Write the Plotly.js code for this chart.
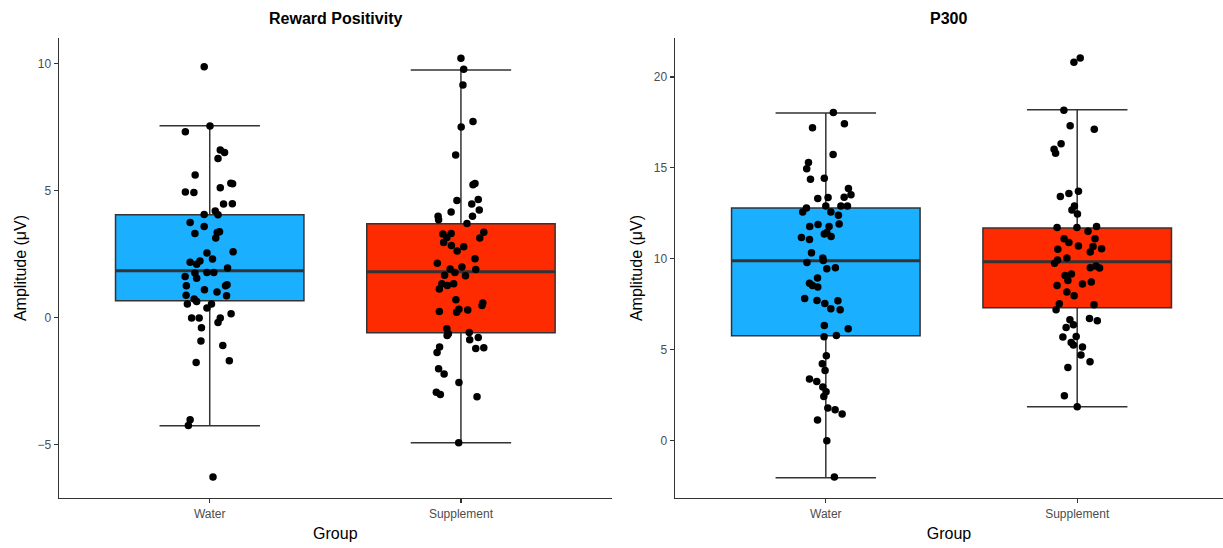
<!DOCTYPE html>
<html>
<head>
<meta charset="utf-8">
<script src="https://cdn.plot.ly/plotly-3.0.1.min.js"></script>
<style>html,body{margin:0;padding:0;background:#fff;}#chart{width:1223px;height:548px;}</style>
</head>
<body>
<div id="chart"></div>
<script>
// ---------- Data ----------
const groups = ["Water", "Supplement"];
const panelTitles = ["Reward Positivity", "P300"];

// Box statistics [Water, Supplement]
const rewpQ1 = [0.67, -0.59];
const rewpMedian = [1.85, 1.81];
const rewpQ3 = [4.06, 3.70];
const rewpLower = [-4.25, -4.92];
const rewpUpper = [7.56, 9.76];

const p300Q1 = [5.77, 7.31];
const p300Median = [9.89, 9.84];
const p300Q3 = [12.80, 11.70];
const p300Lower = [-2.03, 1.87];
const p300Upper = [18.02, 18.19];

// Individual observations (values) and their horizontal jitter (category units)
const rewpWater = [9.89, 7.55, 7.33, 6.61, 6.51, 6.27, 5.62, 5.30, 5.28, 4.95, 4.93, 5.12, 4.48, 4.49, 4.21, 4.06, 4.07, 3.75, 3.59, 3.39, 3.36, 3.32, 3.14, 2.60, 2.55, 2.19, 2.24, 2.11, 2.31, 1.96, 1.63, 1.76, 1.56, 1.78, 1.78, 1.26, 1.30, 1.26, 1.10, 1.01, 0.89, 0.87, 0.74, 0.64, 0.54, 0.54, 0.38, 0.16, -0.01, -0.01, -0.01, -0.19, -0.39, -0.92, -1.09, -1.76, -1.69, -4.02, -4.24, -6.27];
const rewpWaterJit = [-0.022, 0.001, -0.097, 0.042, 0.059, 0.033, -0.058, 0.084, 0.091, -0.097, -0.063, 0.042, 0.055, 0.090, 0.022, 0.033, -0.022, -0.078, -0.022, 0.039, 0.030, -0.059, 0.024, 0.093, -0.011, -0.078, -0.039, -0.052, 0.011, 0.071, -0.098, -0.059, -0.052, -0.011, 0.016, -0.093, 0.069, 0.063, -0.021, 0.029, -0.094, 0.067, -0.062, -0.052, -0.089, 0.007, -0.011, 0.085, -0.072, -0.042, 0.042, 0.033, -0.033, -0.035, 0.052, -0.054, 0.078, -0.078, -0.085, 0.013];

const rewpSupp = [10.22, 9.79, 9.17, 7.73, 7.51, 6.41, 5.24, 5.29, 4.62, 4.66, 4.48, 4.24, 4.17, 4.00, 3.86, 4.00, 3.71, 3.30, 3.32, 3.16, 3.37, 3.14, 2.96, 2.85, 2.80, 2.63, 2.32, 2.15, 2.00, 1.92, 1.90, 1.78, 1.67, 1.65, 1.34, 1.27, 1.34, 1.13, 0.71, 0.58, 0.48, 0.25, 0.34, 0.22, 0.31, -0.43, -0.63, -0.70, -0.58, -0.87, -0.78, -1.15, -1.37, -1.21, -1.18, -2.01, -2.22, -2.55, -2.93, -3.02, -3.11, -4.92];
const rewpSuppJit = [0.000, 0.011, 0.008, 0.048, 0.001, -0.021, 0.048, 0.056, -0.016, 0.069, 0.043, 0.073, -0.039, -0.091, -0.089, 0.046, 0.024, -0.072, -0.039, -0.056, 0.091, 0.075, -0.069, -0.038, 0.011, -0.015, 0.056, -0.094, 0.004, -0.043, 0.059, -0.024, -0.065, 0.018, -0.076, -0.054, -0.029, -0.086, -0.020, 0.087, 0.084, -0.086, -0.008, -0.017, 0.027, -0.056, -0.050, -0.055, 0.033, 0.035, 0.069, -0.085, -0.095, 0.059, 0.091, -0.089, -0.067, -0.008, -0.098, -0.082, 0.064, -0.009];

const p300Water = [18.04, 17.21, 17.42, 15.73, 15.29, 14.95, 14.43, 14.38, 13.86, 13.52, 13.39, 13.31, 13.37, 12.80, 12.57, 12.91, 12.91, 12.91, 12.57, 12.40, 11.77, 11.88, 11.77, 11.91, 11.37, 11.22, 11.44, 11.17, 11.06, 10.33, 10.04, 9.91, 9.80, 9.45, 9.51, 8.94, 8.66, 8.53, 8.45, 7.82, 7.71, 7.54, 7.69, 7.25, 7.20, 6.34, 6.15, 5.71, 5.79, 4.67, 4.23, 3.86, 3.39, 3.26, 2.95, 2.69, 2.43, 1.80, 1.70, 1.47, 1.14, 0.00, -1.99];
const p300WaterJit = [0.030, -0.053, 0.074, 0.029, -0.069, -0.076, -0.006, -0.061, 0.090, 0.100, 0.073, -0.032, 0.009, -0.077, -0.092, 0.000, 0.060, 0.086, 0.020, 0.050, -0.064, -0.031, 0.013, 0.053, -0.006, 0.021, 0.004, -0.097, -0.065, -0.057, -0.012, -0.010, -0.075, 0.004, 0.038, -0.033, -0.065, -0.053, -0.032, -0.084, -0.035, -0.004, 0.048, 0.020, 0.057, -0.006, 0.089, -0.007, 0.042, 0.002, -0.014, -0.003, -0.065, -0.036, -0.012, 0.001, -0.008, 0.008, 0.037, 0.065, -0.033, 0.004, 0.034];

const p300Supp = [21.04, 20.81, 18.17, 17.32, 17.12, 16.32, 16.03, 15.81, 13.72, 13.59, 13.42, 12.90, 12.69, 12.47, 11.72, 11.72, 11.78, 11.52, 11.10, 11.10, 10.90, 10.71, 10.53, 10.68, 10.55, 10.37, 10.04, 9.93, 9.76, 9.51, 9.60, 9.49, 9.08, 9.16, 8.81, 8.53, 8.61, 8.72, 8.17, 7.97, 7.53, 7.20, 7.47, 6.65, 6.37, 6.72, 6.59, 6.23, 5.70, 5.73, 5.40, 5.26, 5.15, 4.71, 4.03, 4.34, 2.47, 1.87];
const p300SuppJit = [0.012, -0.013, -0.053, -0.028, 0.068, -0.064, -0.092, -0.086, 0.005, -0.033, -0.067, -0.011, -0.021, 0.001, -0.080, -0.001, 0.077, 0.043, 0.071, -0.052, -0.033, 0.005, -0.077, 0.063, 0.097, 0.052, -0.041, -0.078, -0.090, 0.052, 0.075, 0.089, -0.048, -0.023, -0.037, -0.080, 0.021, 0.056, -0.041, -0.012, -0.071, -0.084, 0.067, -0.029, -0.015, 0.049, 0.080, -0.044, -0.057, -0.004, -0.024, -0.015, 0.021, 0.015, -0.037, 0.051, -0.051, 0.000];

// ---------- Styles ----------
const fills = ["#1AAFFF", "#FF2B00"];
const boxLine = "#333333";
const boxWidth = 0.75;
const catPos = [1, 2];

const traces = [];

function addPanel(q1, med, q3, lo, hi, xa, ya) {
  for (let g = 0; g < 2; g++) {
    traces.push({
      type: "box", x: [catPos[g]], q1: [q1[g]], median: [med[g]], q3: [q3[g]],
      lowerfence: [lo[g]], upperfence: [hi[g]],
      width: boxWidth, whiskerwidth: 0.533,
      fillcolor: fills[g], line: { color: boxLine, width: 1.5 },
      boxpoints: false, xaxis: xa, yaxis: ya, showlegend: false, hoverinfo: "skip"
    });
  }
}
function addMedians(med, xa, ya) {
  for (let g = 0; g < 2; g++) {
    traces.push({
      type: "scatter", mode: "lines",
      x: [catPos[g] - boxWidth / 2, catPos[g] + boxWidth / 2], y: [med[g], med[g]],
      line: { color: boxLine, width: 3 }, xaxis: xa, yaxis: ya, showlegend: false, hoverinfo: "skip"
    });
  }
}
function addPoints(vals, jit, g, xa, ya) {
  traces.push({
    type: "scatter", mode: "markers",
    x: vals.map((v, i) => catPos[g] + jit[i]), y: vals,
    marker: { color: "#000000", size: 7.5 },
    xaxis: xa, yaxis: ya, showlegend: false
  });
}

addPanel(rewpQ1, rewpMedian, rewpQ3, rewpLower, rewpUpper, "x", "y");
addPanel(p300Q1, p300Median, p300Q3, p300Lower, p300Upper, "x2", "y2");
addMedians(rewpMedian, "x", "y");
addMedians(p300Median, "x2", "y2");
addPoints(rewpWater, rewpWaterJit, 0, "x", "y");
addPoints(rewpSupp, rewpSuppJit, 1, "x", "y");
addPoints(p300Water, p300WaterJit, 0, "x2", "y2");
addPoints(p300Supp, p300SuppJit, 1, "x2", "y2");

const tickFont = { family: "Liberation Sans, Arial, sans-serif", size: 12, color: "#4D4D4D" };
const titleFont = { family: "Liberation Sans, Arial, sans-serif", size: 16, color: "#000000" };

function xAxis(domain, range, anchor) {
  return {
    domain: domain, range: range, anchor: anchor,
    tickmode: "array", tickvals: catPos, ticktext: groups,
    showline: true, linecolor: "#333333", linewidth: 1.4, mirror: false,
    ticks: "outside", ticklen: 4, tickcolor: "#333333", tickwidth: 1.2,
    showgrid: false, zeroline: false, tickfont: tickFont,
    title: { text: "Group", font: titleFont, standoff: 8 }
  };
}
function yAxis(range, anchor, tickvals) {
  return {
    range: range, anchor: anchor, tickmode: "array", tickvals: tickvals,
    showline: true, linecolor: "#333333", linewidth: 1.4,
    ticks: "outside", ticklen: 4, tickcolor: "#333333", tickwidth: 1.2,
    showgrid: false, zeroline: false, tickfont: tickFont,
    title: { text: "Amplitude (μV)", font: titleFont, standoff: 7 }
  };
}

const layout = {
  width: 1223, height: 548,
  margin: { l: 59, r: 0, t: 38, b: 50 },
  paper_bgcolor: "#ffffff", plot_bgcolor: "#ffffff",
  showlegend: false,
  xaxis: xAxis([0, 0.4748], [0.4, 2.6], "y"),
  yaxis: yAxis([-7.10, 11.02], "x", [-5, 0, 5, 10]),
  xaxis2: xAxis([0.5292, 1], [0.4, 2.58], "y2"),
  yaxis2: yAxis([-3.15, 22.14], "x2", [0, 5, 10, 15, 20]),
  annotations: [
    { text: "<b>" + panelTitles[0] + "</b>", xref: "x domain", yref: "paper", x: 0.5, y: 1,
      xanchor: "center", yanchor: "bottom", showarrow: false,
      font: { family: "Liberation Sans, Arial, sans-serif", size: 16, color: "#000" }, yshift: 9 },
    { text: "<b>" + panelTitles[1] + "</b>", xref: "x2 domain", yref: "paper", x: 0.5, y: 1,
      xanchor: "center", yanchor: "bottom", showarrow: false,
      font: { family: "Liberation Sans, Arial, sans-serif", size: 16, color: "#000" }, yshift: 9 }
  ]
};

Plotly.newPlot("chart", traces, layout, { displayModeBar: false, staticPlot: true });
</script>
</body>
</html>
